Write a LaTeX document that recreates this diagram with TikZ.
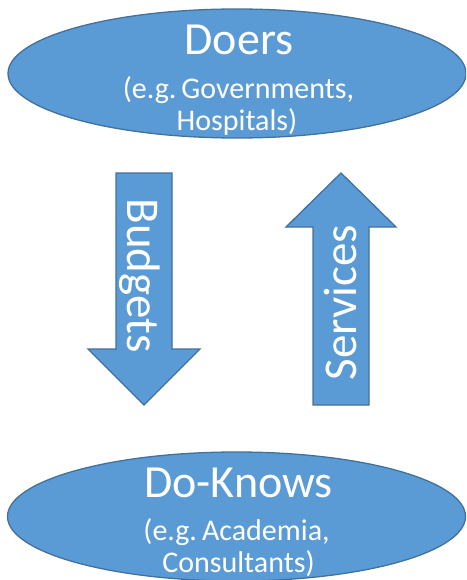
\documentclass[tikz,border=0pt]{standalone}
\usepackage{fontspec}
\setmainfont{Carlito}
\usetikzlibrary{shapes.geometric}
\definecolor{fillblue}{HTML}{5B9BD5}
\definecolor{edgeblue}{HTML}{41719C}
\tikzset{
  oval/.style={ellipse, draw=edgeblue, fill=fillblue, line width=1.3pt, minimum width=458pt, minimum height=129pt, inner sep=0pt},
  bigarrow/.style={draw=edgeblue, fill=fillblue, line width=1.3pt, line join=miter},
  bigtxt/.style={text=white, font=\fontsize{46}{50}\selectfont, inner sep=0pt, anchor=base},
  smalltxt/.style={text=white, font=\fontsize{30}{34}\selectfont, inner sep=0pt, anchor=base},
  arrtxt/.style={text=white, font=\fontsize{47}{50}\selectfont, inner sep=0pt, anchor=base}
}
\begin{document}
\begin{tikzpicture}[x=1pt,y=-1pt]
\useasboundingbox (0,0) rectangle (466,580);
\clip (0,0) rectangle (466,580);
% top ellipse
\node[oval] (doers) at (237,73.5) {};
\node[bigtxt] (doerst) at (239,55) {Doers};
\node[smalltxt] (doers2) at (238.5,99) {(e.g.\,Governments,};
\node[smalltxt] (doers3) at (237,130.5) {Hospitals)};
% bottom ellipse
\node[oval] (doknows) at (236.5,516.5) {};
\node[bigtxt] (doknowst) at (238.5,497) {Do-Knows};
\node[smalltxt] (dok2) at (236.5,540) {(e.g.\,Academia,};
\node[smalltxt] (dok3) at (238.5,572.5) {Consultants)};
% down arrow
\draw[bigarrow] (116,173) -- (172,173) -- (172,349) -- (200,349) -- (144,405) -- (88,349) -- (116,349) -- cycle;
\node[arrtxt, rotate=-90] (budgets) at (127,275.5) {Budgets};
% up arrow
\draw[bigarrow] (313,405) -- (369,405) -- (369,227) -- (396,227) -- (341,173) -- (286,227) -- (313,227) -- cycle;
\node[arrtxt, rotate=90] (services) at (356.5,302.5) {Services};
\end{tikzpicture}
\end{document}
